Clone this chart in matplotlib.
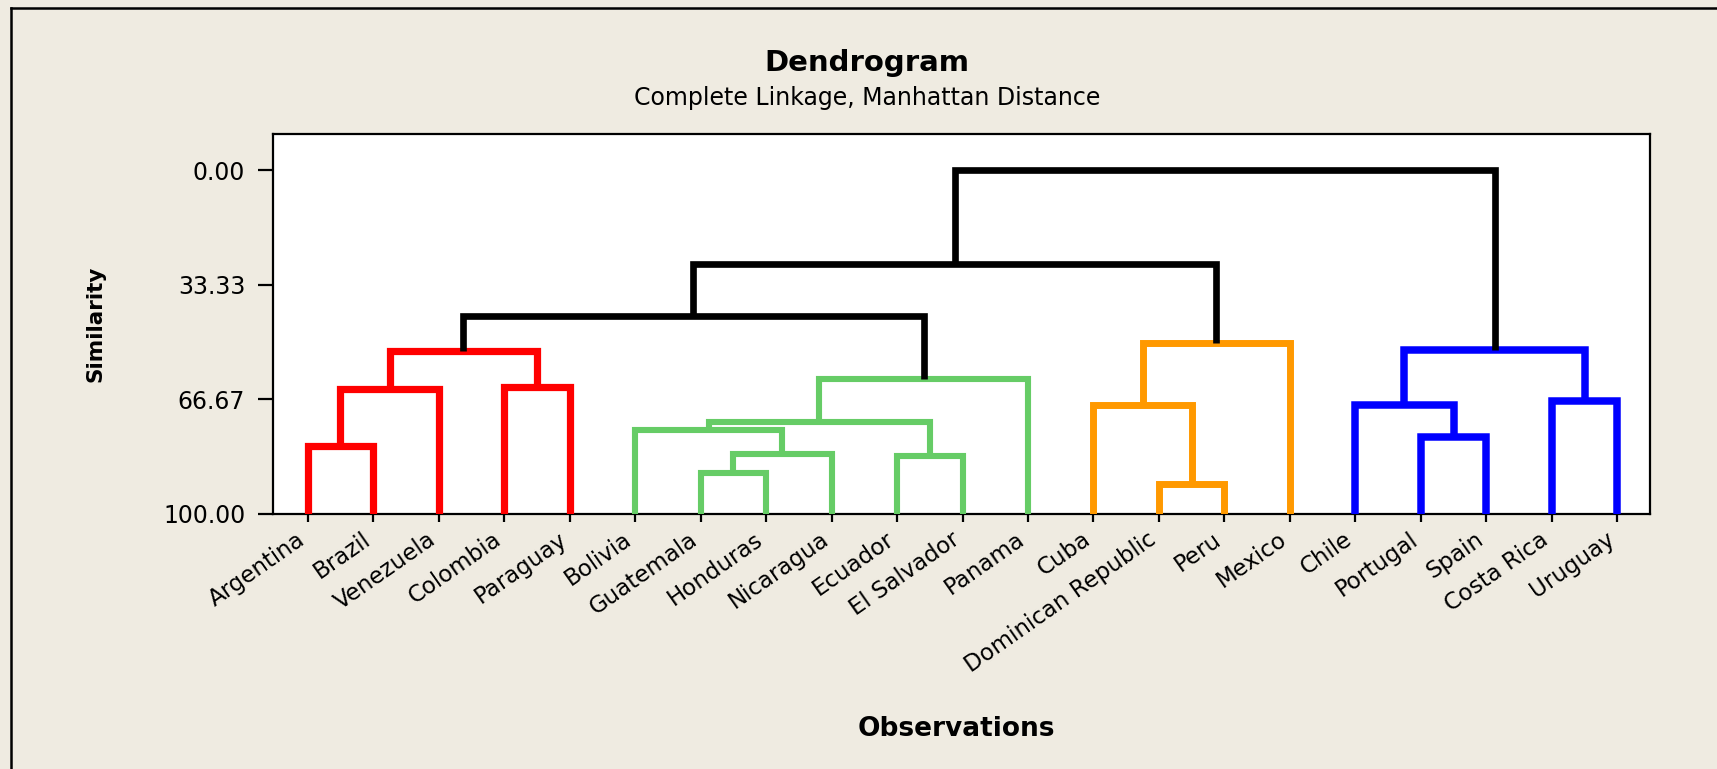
import matplotlib
matplotlib.use("Agg")
import matplotlib.pyplot as plt
from matplotlib.lines import Line2D
from matplotlib.transforms import ScaledTranslation

# leaves in dendrogram order
leaves = ["Argentina", "Brazil", "Venezuela", "Colombia", "Paraguay", "Bolivia",
          "Guatemala", "Honduras", "Nicaragua", "Ecuador", "El Salvador", "Panama",
          "Cuba", "Dominican Republic", "Peru", "Mexico", "Chile", "Portugal",
          "Spain", "Costa Rica", "Uruguay"]

# merges, scipy style: clusters 0..20 are leaves, 21.. are merges in order
merge_left = [13, 6, 9, 22, 0, 17, 5, 27, 12, 16, 19, 25, 3, 28, 32, 30, 29, 35, 38, 39]
merge_right = [14, 7, 10, 8, 1, 18, 24, 23, 21, 26, 20, 2, 4, 11, 33, 31, 15, 34, 37, 36]
merge_sim = [91.3, 88.2, 83.1, 82.5, 80.2, 77.7, 75.5, 73.2, 68.5, 68.5, 67.3,
             63.7, 63.2, 60.9, 52.7, 52.2, 50.4, 42.4, 27.2, 0.0]
merge_group = ["orange", "green", "green", "green", "red", "blue", "green", "green",
               "orange", "blue", "blue", "red", "red", "green", "red", "blue",
               "orange", "black", "black", "black"]

ytick_vals = [0.0, 33.33, 66.67, 100.0]
ytick_labels = ["0.00", "33.33", "66.67", "100.00"]

colors = {"red": "#ff0000", "green": "#66cc66", "orange": "#ff9900",
          "blue": "#0000ff", "black": "#000000"}
widths = {"red": 5.2, "green": 4.4, "orange": 5.0, "blue": 5.4, "black": 4.8}

bg = "#efebe1"

fig = plt.figure(figsize=(17.17, 7.69), dpi=100, facecolor=bg)
ax = fig.add_axes([0.159, 0.332, 0.802, 0.494])
ax.set_facecolor("white")

n = len(leaves)
xpos = [i + 1 for i in range(n)]
ypos = [100.0] * n
for l, r, s, g in zip(merge_left, merge_right, merge_sim, merge_group):
    x1, y1 = xpos[l], ypos[l]
    x2, y2 = xpos[r], ypos[r]
    ax.plot([x1, x1, x2, x2], [y1, s, s, y2], color=colors[g], lw=widths[g],
            solid_joinstyle="miter", solid_capstyle="butt", zorder=3)
    xpos.append((x1 + x2) / 2.0)
    ypos.append(s)

ax.set_xlim(0.47, 21.5)
ax.set_ylim(100, -10.6)

ax.set_yticks(ytick_vals)
ax.set_yticklabels(ytick_labels, fontsize=17)
ax.set_xticks(range(1, n + 1))
ax.set_xticklabels([])
ax.tick_params(axis="y", length=11, width=1.6, pad=9, direction="out")
ax.tick_params(axis="x", length=6, width=1.6, direction="out")
for sp in ax.spines.values():
    sp.set_linewidth(1.6)

# leaf names, rotated, ending just left of each tick
lab_tr = ax.get_xaxis_transform() + ScaledTranslation(-12 / 100, -14 / 100, fig.dpi_scale_trans)
for i, name in enumerate(leaves):
    ax.text(i + 1, 0, name, transform=lab_tr, fontsize=16.5, rotation=35,
            ha="right", va="top", rotation_mode="anchor")

ax.set_ylabel("Similarity", fontsize=15.5, fontweight="bold")
ax.yaxis.set_label_coords(-0.122, 0.5)
fig.text(0.557, 0.052, "Observations", fontsize=19, fontweight="bold",
         ha="center", va="center")

fig.text(0.505, 0.918, "Dendrogram", fontsize=21, fontweight="bold",
         ha="center", va="center")
fig.text(0.505, 0.873, "Complete Linkage, Manhattan Distance", fontsize=17,
         ha="center", va="center")

# outer frame (top and left only visible)
fig.add_artist(Line2D([11 / 1717, 1.0], [1 - 8 / 769, 1 - 8 / 769],
                      transform=fig.transFigure, color="black", lw=1.8))
fig.add_artist(Line2D([11 / 1717, 11 / 1717], [0.0, 1 - 8 / 769],
                      transform=fig.transFigure, color="black", lw=1.8))

fig.savefig("out.png", dpi=100, facecolor=bg)
